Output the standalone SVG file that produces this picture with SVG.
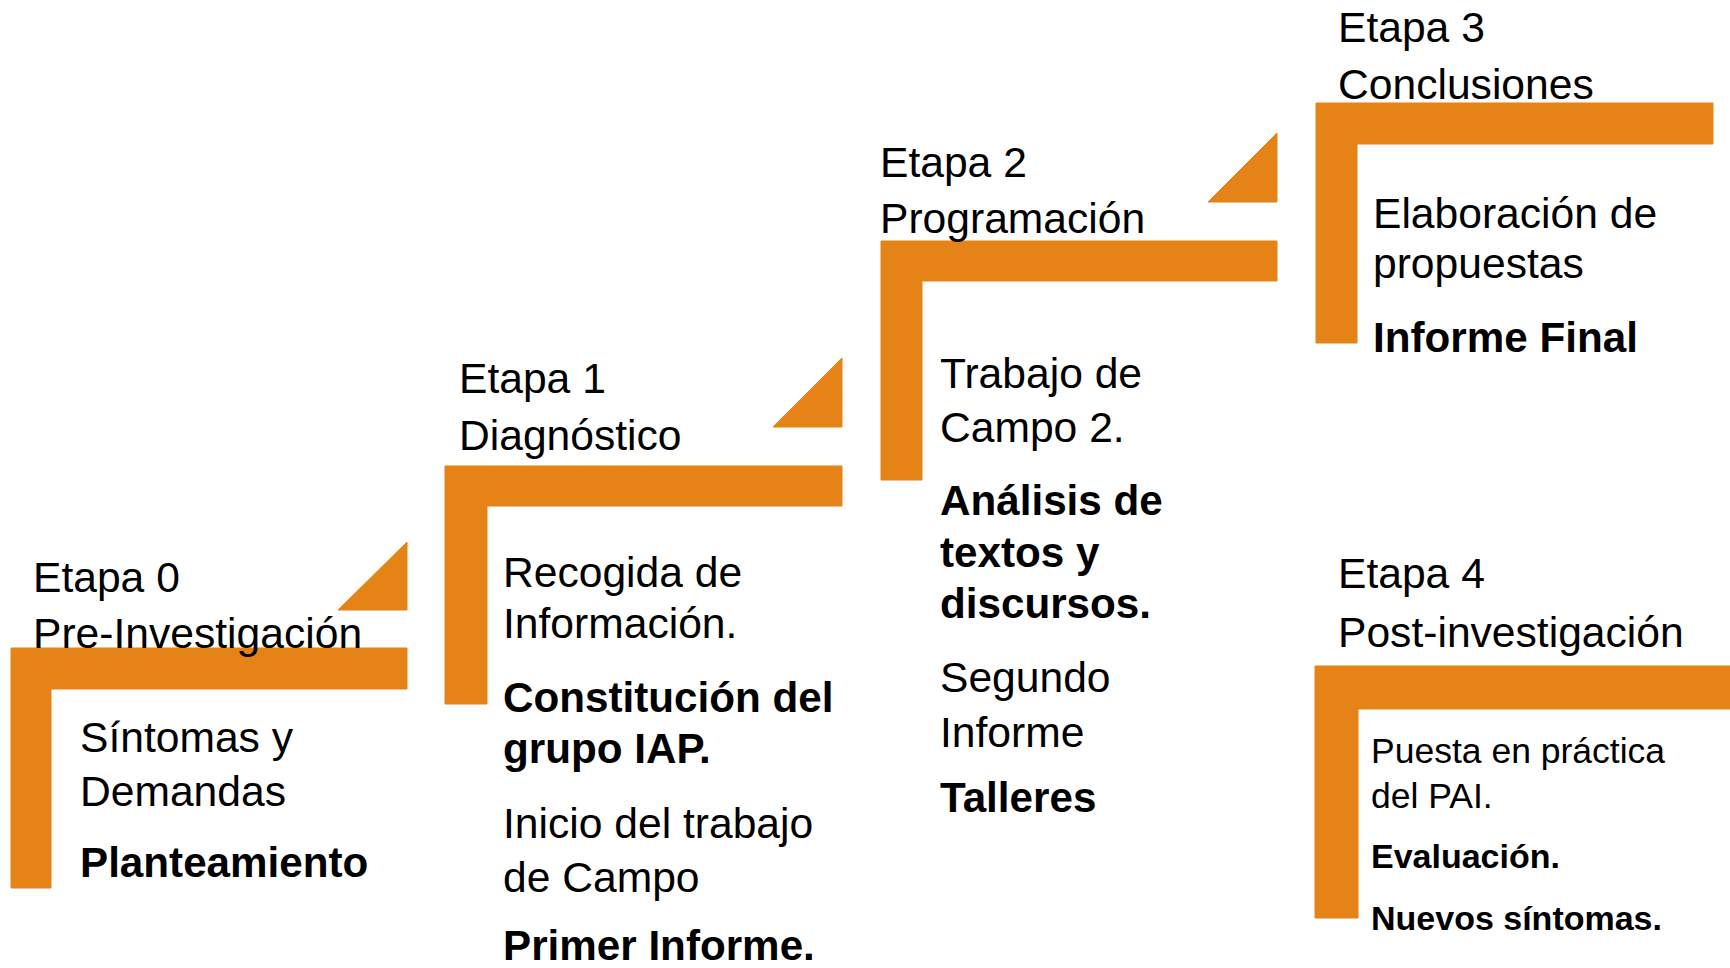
<svg xmlns="http://www.w3.org/2000/svg" width="1730" height="968" viewBox="0 0 1730 968">
<style>
.bar{fill:#E58316;stroke:#E58316;stroke-width:1;stroke-linejoin:round}
text{font-family:"Liberation Sans",Arial,sans-serif;fill:#000}
.h{font-size:42.6px}
.b{font-size:42.6px}
.bb{font-size:42.2px;font-weight:bold}
.s{font-size:35.5px}
.sb{font-size:34px;font-weight:bold}
</style>
<rect width="1730" height="968" fill="#fff"/>
<g id="connectors">
<polygon class="bar" points="407,542 407,610 338,610"/>
<polygon class="bar" points="842,358 842,427 773,427"/>
<polygon class="bar" points="1277,133 1277,202 1208,202"/>
</g>
<g id="etapa0">
<path class="bar" d="M11,648 H407 V689 H51 V888 H11 Z"/>
<text class="h" x="33" y="592">Etapa 0</text>
<text class="h" x="33" y="648">Pre-Investigación</text>
<text class="b" x="80" y="752">Síntomas y</text>
<text class="b" x="80" y="806">Demandas</text>
<text class="bb" x="80" y="877">Planteamiento</text>
</g>
<g id="etapa1">
<path class="bar" d="M445,466 H842 V506 H487 V704 H445 Z"/>
<text class="h" x="459" y="393">Etapa 1</text>
<text class="h" x="459" y="450">Diagnóstico</text>
<text class="b" x="503" y="587">Recogida de</text>
<text class="b" x="503" y="638">Información.</text>
<text class="bb" x="503" y="712">Constitución del</text>
<text class="bb" x="503" y="763">grupo IAP.</text>
<text class="b" x="503" y="838">Inicio del trabajo</text>
<text class="b" x="503" y="892">de Campo</text>
<text class="bb" x="503" y="960">Primer Informe.</text>
</g>
<g id="etapa2">
<path class="bar" d="M881,241 H1277 V281 H922 V480 H881 Z"/>
<text class="h" x="880" y="177">Etapa 2</text>
<text class="h" x="880" y="233">Programación</text>
<text class="b" x="940" y="388">Trabajo de</text>
<text class="b" x="940" y="442">Campo 2.</text>
<text class="bb" x="940" y="515">Análisis de</text>
<text class="bb" x="940" y="567">textos y</text>
<text class="bb" x="940" y="618">discursos.</text>
<text class="b" x="940" y="692">Segundo</text>
<text class="b" x="940" y="747">Informe</text>
<text class="bb" x="940" y="812">Talleres</text>
</g>
<g id="etapa3">
<path class="bar" d="M1316,103 H1713 V144 H1357 V343 H1316 Z"/>
<text class="h" x="1338" y="42">Etapa 3</text>
<text class="h" x="1338" y="99">Conclusiones</text>
<text class="b" x="1373" y="228">Elaboración de</text>
<text class="b" x="1373" y="278">propuestas</text>
<text class="bb" x="1373" y="352">Informe Final</text>
</g>
<g id="etapa4">
<path class="bar" d="M1315,666 H1731 V709 H1358 V918 H1315 Z"/>
<text class="h" x="1338" y="588">Etapa 4</text>
<text class="h" x="1338" y="647">Post-investigación</text>
<text class="s" x="1371" y="763">Puesta en práctica</text>
<text class="s" x="1371" y="808">del PAI.</text>
<text class="sb" x="1371" y="868">Evaluación.</text>
<text class="sb" x="1371" y="930">Nuevos síntomas.</text>
</g>
</svg>
